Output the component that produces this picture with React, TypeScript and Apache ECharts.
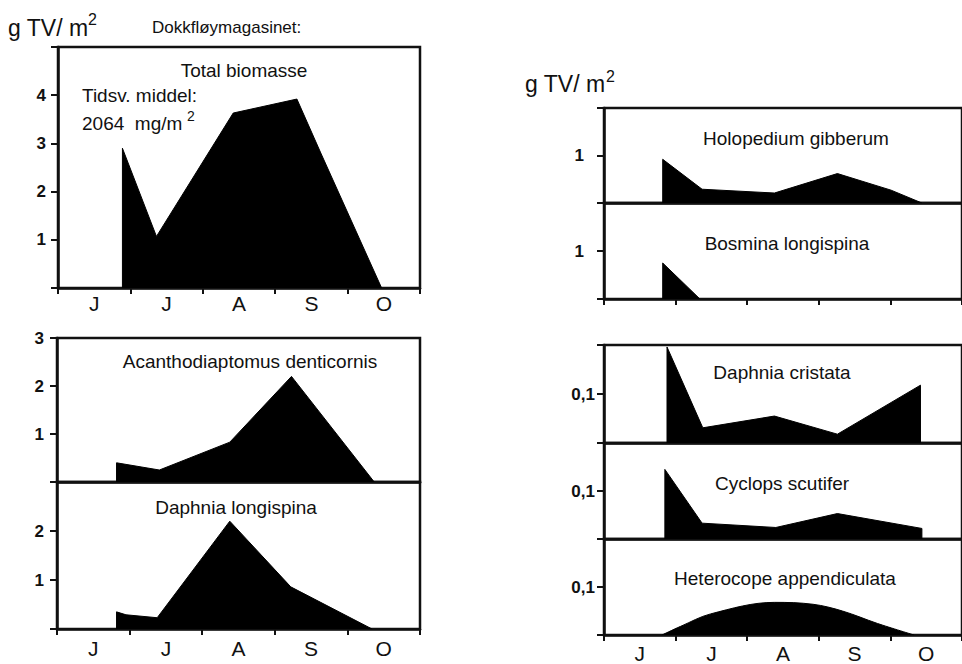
import React, { useEffect, useRef } from 'react';
import * as echarts from 'echarts';

// Month tick labels (June..October), x-axis measured in months from 1 June
const months = ['J', 'J', 'A', 'S', 'O'];

// [month, gTV/m2]
const totalBiomasse = [[0.89, 0], [0.89, 2.9], [1.36, 1.07], [2.42, 3.63], [3.3, 3.92], [3.63, 2.8], [4.47, 0]];
const acanthodiaptomus = [[0.82, 0], [0.82, 0.4], [1.41, 0.25], [2.38, 0.83], [3.23, 2.2], [4.37, 0]];
const daphniaLongispina = [[0.82, 0], [0.82, 0.35], [0.95, 0.29], [1.38, 0.23], [2.38, 2.2], [3.22, 0.86], [4.34, 0]];
const holopedium = [[0.82, 0], [0.82, 0.92], [1.37, 0.29], [2.38, 0.21], [3.26, 0.62], [4.01, 0.27], [4.44, 0]];
const bosmina = [[0.82, 0], [0.82, 0.75], [1.34, 0]];
const daphniaCristata = [[0.88, 0], [0.88, 0.196], [1.38, 0.031], [2.38, 0.055], [3.26, 0.018], [4.42, 0.118], [4.42, 0]];
const cyclops = [[0.85, 0], [0.85, 0.145], [1.37, 0.033], [2.4, 0.024], [3.26, 0.053], [4.44, 0.022], [4.44, 0]];
const heterocope = [[0.81, 0], [1.07, 0.018], [1.49, 0.044], [2.38, 0.068], [2.92, 0.064], [3.33, 0.05], [3.82, 0.024], [4.33, 0]];

const yLabelsTotal = [1, 2, 3, 4];
const yLabelsAcanth = [1, 2, 3];
const yLabelsDaphL = [1, 2];
const yLabelsOne = [1];
const yLabelsTenth = [0.1];

const panelTitles = [
  'Total biomasse',
  'Acanthodiaptomus denticornis',
  'Daphnia longispina',
  'Holopedium gibberum',
  'Bosmina longispina',
  'Daphnia cristata',
  'Cyclops scutifer',
  'Heterocope appendiculata',
];

const FONT = '"Liberation Sans", Arial, Helvetica, sans-serif';
const INK = '#111';

type Panel = {
  left: number; top: number; width: number; height: number;
  yMax: number; yInterval: number; yLabels: number[]; yMargin: number;
  xTicks: boolean; xLabels: boolean; xMargin?: number;
  data: number[][]; smooth?: number;
  title: string; tx: number; ty: number;
};

const panels: Panel[] = [
  { left: 58, top: 47, width: 362, height: 241, yMax: 5, yInterval: 1, yLabels: yLabelsTotal, yMargin: 12, xTicks: true, xLabels: true, xMargin: 5, data: totalBiomasse, title: panelTitles[0], tx: 244, ty: 70 },
  { left: 57, top: 338, width: 363, height: 144, yMax: 3, yInterval: 1, yLabels: yLabelsAcanth, yMargin: 13, xTicks: false, xLabels: false, data: acanthodiaptomus, title: panelTitles[1], tx: 250, ty: 361 },
  { left: 57, top: 482, width: 363, height: 147, yMax: 3, yInterval: 1, yLabels: yLabelsDaphL, yMargin: 13, xTicks: true, xLabels: true, xMargin: 9, data: daphniaLongispina, title: panelTitles[2], tx: 236, ty: 507 },
  { left: 604, top: 108, width: 365, height: 95, yMax: 2, yInterval: 1, yLabels: yLabelsOne, yMargin: 20, xTicks: false, xLabels: false, data: holopedium, title: panelTitles[3], tx: 796, ty: 138 },
  { left: 604, top: 203, width: 365, height: 96, yMax: 2, yInterval: 1, yLabels: yLabelsOne, yMargin: 20, xTicks: true, xLabels: false, data: bosmina, title: panelTitles[4], tx: 787, ty: 243 },
  { left: 604, top: 345, width: 365, height: 98, yMax: 0.2, yInterval: 0.1, yLabels: yLabelsTenth, yMargin: 9, xTicks: false, xLabels: false, data: daphniaCristata, title: panelTitles[5], tx: 782, ty: 372 },
  { left: 604, top: 443, width: 365, height: 96, yMax: 0.2, yInterval: 0.1, yLabels: yLabelsTenth, yMargin: 9, xTicks: false, xLabels: false, data: cyclops, title: panelTitles[6], tx: 782, ty: 483 },
  { left: 604, top: 539, width: 365, height: 98, yMax: 0.2, yInterval: 0.1, yLabels: yLabelsTenth, yMargin: 9, xTicks: true, xLabels: true, xMargin: 8, data: heterocope, smooth: 0.35, title: panelTitles[7], tx: 785, ty: 578 },
];

function fmt(v: number) {
  return String(Math.round(v * 1000) / 1000).replace('.', ',');
}

function buildOption() {
  const grid: any[] = [];
  const xAxis: any[] = [];
  const yAxis: any[] = [];
  const series: any[] = [];
  const graphic: any[] = [];

  panels.forEach((p, i) => {
    grid.push({
      left: p.left, top: p.top, width: p.width, height: p.height,
      show: true, borderColor: INK, borderWidth: 2.5, backgroundColor: 'transparent',
    });
    const valueAxisIndex = xAxis.length;
    xAxis.push({
      type: 'value', gridIndex: i, min: 0, max: 5, interval: 1, position: 'bottom',
      axisLine: { show: true, onZero: false, lineStyle: { color: INK, width: 2.5 } },
      axisTick: { show: p.xTicks, inside: false, length: 6, lineStyle: { color: INK, width: 2 } },
      axisLabel: { show: false },
      splitLine: { show: false },
    });
    if (p.xLabels) {
      xAxis.push({
        type: 'category', gridIndex: i, data: months, boundaryGap: true, position: 'bottom',
        axisLine: { show: false }, axisTick: { show: false }, splitLine: { show: false },
        axisLabel: { show: true, margin: p.xMargin, fontSize: 21, fontFamily: FONT, color: INK },
      });
    }
    const labels = p.yLabels;
    yAxis.push({
      type: 'value', gridIndex: i, min: 0, max: p.yMax, interval: p.yInterval,
      axisLine: { show: true, onZero: false, lineStyle: { color: INK, width: 2.5 } },
      axisTick: { show: true, inside: false, length: 7, lineStyle: { color: INK, width: 2 } },
      splitLine: { show: false },
      axisLabel: {
        show: true, margin: p.yMargin, fontSize: 17, fontWeight: 'bold', fontFamily: FONT, color: INK,
        formatter: (v: number) => (labels.some((l) => Math.abs(l - v) < 1e-9) ? fmt(v) : ''),
      },
    });
    series.push({
      type: 'line', xAxisIndex: valueAxisIndex, yAxisIndex: i, data: p.data,
      symbol: 'none', smooth: p.smooth || false,
      lineStyle: { color: '#000', width: 1 },
      areaStyle: { color: '#000', opacity: 1 },
      silent: true,
    });
    graphic.push({
      type: 'text', x: p.tx, y: p.ty, z: 100,
      style: { text: p.title, fill: INK, font: `19px ${FONT}`, textAlign: 'center', textVerticalAlign: 'middle' },
    });
  });

  const txt = (text: string, x: number, y: number, size: number, align = 'left') => ({
    type: 'text', x, y, z: 100,
    style: { text, fill: INK, font: `${size}px ${FONT}`, textAlign: align, textVerticalAlign: 'middle' },
  });

  graphic.push(txt('g TV/ m', 8, 28, 23));
  graphic.push(txt('2', 88, 19, 16));
  graphic.push(txt('Dokkfløymagasinet:', 152, 27, 17));
  graphic.push(txt('Tidsv. middel:', 82, 95, 19));
  graphic.push(txt('2064  mg/m', 82, 123, 19));
  graphic.push(txt('2', 187, 116, 14));
  graphic.push(txt('g TV/ m', 525, 84, 23));
  graphic.push(txt('2', 606, 76, 16));

  return {
    animation: false,
    backgroundColor: '#fff',
    grid, xAxis, yAxis, series, graphic,
  };
}

export default function App() {
  const ref = useRef<HTMLDivElement>(null);
  useEffect(() => {
    if (!ref.current) return;
    const chart = echarts.init(ref.current, undefined, { renderer: 'svg' });
    chart.setOption(buildOption() as any);
    return () => chart.dispose();
  }, []);
  return (
    <div
      ref={ref}
      style={{ position: 'fixed', left: 0, top: 0, width: 962, height: 664, background: '#fff' }}
    />
  );
}
